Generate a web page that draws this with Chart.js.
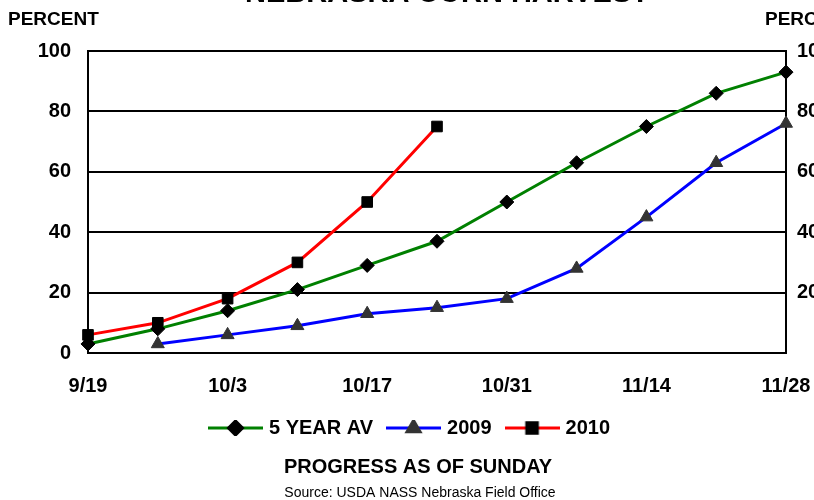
<!DOCTYPE html>
<html>
<head>
<meta charset="utf-8">
<script src="https://cdn.jsdelivr.net/npm/chart.js@4/dist/chart.umd.min.js"></script>
<style>
  body { margin: 0; background: #fff; }
  canvas { display: block; }
</style>
</head>
<body>
<canvas id="harvestChart" width="814" height="500"></canvas>
<script>
// weekly dates (Sundays), labels shown every other week
const weeks = ['9/19', '9/26', '10/3', '10/10', '10/17', '10/24', '10/31', '11/7', '11/14', '11/21', '11/28'];
const fiveYearAvg = [3, 8, 14, 21, 29, 37, 50, 63, 75, 86, 93];
const year2009 = [null, 3, 6, 9, 13, 15, 18, 28, 45, 63, 76];
const year2010 = [6, 10, 18, 30, 50, 75];
const yTicks = [0, 20, 40, 60, 80, 100];

const FONT = "'Liberation Sans', Arial, sans-serif";

// legend icon: short line with the marker in the middle
function legendIcon(color, style, markerColor, radius) {
    const c = document.createElement('canvas');
    c.width = 55;
    c.height = 16;
    const ctx = c.getContext('2d');
    ctx.strokeStyle = color;
    ctx.lineWidth = 3;
    ctx.beginPath();
    ctx.moveTo(0, 8);
    ctx.lineTo(55, 8);
    ctx.stroke();
    ctx.fillStyle = markerColor;
    ctx.strokeStyle = markerColor;
    Chart.helpers.drawPoint(ctx, { pointStyle: style, radius: radius, borderWidth: 1, rotation: 0 }, 27.5, 8);
    return c;
}

const textPlugin = {
    id: 'texts',
    afterDraw(chart) {
        const ctx = chart.ctx;
        ctx.save();
        ctx.fillStyle = '#000';
        ctx.textBaseline = 'middle';
        ctx.textAlign = 'left';
        ctx.font = 'bold 19px ' + FONT;
        ctx.fillText('PERCENT', 8, 20);
        ctx.fillText('PERCENT', 765, 20);

        ctx.textAlign = 'center';
        ctx.textBaseline = 'alphabetic';
        ctx.font = 'bold 29px ' + FONT;
        ctx.fillText('NEBRASKA CORN HARVEST', 447, 2);

        ctx.textBaseline = 'middle';
        ctx.font = 'bold 20px ' + FONT;
        ctx.fillText('PROGRESS AS OF SUNDAY', 418, 467);
        ctx.font = '14px ' + FONT;
        ctx.fillText('Source: USDA NASS Nebraska Field Office', 420, 493);
        ctx.restore();
    }
};

const ctx = document.getElementById('harvestChart').getContext('2d');
const harvestChart = new Chart(ctx, {
    type: 'line',
    data: {
        labels: weeks,
        datasets: [
            {
                label: '5 YEAR AV',
                data: fiveYearAvg,
                borderColor: '#008000',
                backgroundColor: '#000000',
                pointStyle: 'rectRot',
                pointRadius: 7,
                pointBorderColor: '#000000',
                icon: legendIcon('#008000', 'rectRot', '#000000', 7)
            },
            {
                label: '2009',
                data: year2009,
                borderColor: '#0000FF',
                backgroundColor: '#333333',
                pointStyle: 'triangle',
                pointRadius: 7.5,
                pointBorderColor: '#333333',
                icon: legendIcon('#0000FF', 'triangle', '#333333', 7.5)
            },
            {
                label: '2010',
                data: year2010,
                borderColor: '#FF0000',
                backgroundColor: '#000000',
                pointStyle: 'rect',
                pointRadius: 7.5,
                pointBorderColor: '#000000',
                icon: legendIcon('#FF0000', 'rect', '#000000', 7.5)
            }
        ]
    },
    options: {
        responsive: false,
        animation: false,
        devicePixelRatio: 1,
        layout: { padding: { top: 51, left: 8, right: 0, bottom: 52 } },
        datasets: {
            line: { borderWidth: 3, tension: 0, clip: false, pointBorderWidth: 1, spanGaps: false }
        },
        scales: {
            x: {
                type: 'category',
                offset: false,
                grid: { display: true, drawOnChartArea: false, drawTicks: false },
                border: { display: true, color: '#000', width: 2 },
                ticks: {
                    autoSkip: false,
                    maxRotation: 0,
                    padding: 21,
                    color: '#000',
                    font: { family: FONT, size: 20, weight: 'bold' },
                    callback: (value, index) => index % 2 === 0 ? weeks[index] : ''
                },
                afterFit: (scale) => {
                    scale.height = 48;
                    scale.paddingLeft = 0;
                    scale.paddingRight = 0;
                }
            },
            y: {
                position: 'left',
                min: 0,
                max: 100,
                grid: { color: '#000', lineWidth: 2, drawTicks: false },
                border: { display: true, color: '#000', width: 2 },
                ticks: {
                    stepSize: 20,
                    padding: 17,
                    color: '#000',
                    font: { family: FONT, size: 20, weight: 'bold' },
                    callback: (v) => yTicks.includes(v) ? v : ''
                },
                afterFit: (scale) => { scale.width = 80; }
            },
            y2: {
                position: 'right',
                min: 0,
                max: 100,
                grid: { display: true, drawOnChartArea: false, drawTicks: false },
                border: { display: true, color: '#000', width: 2 },
                ticks: {
                    stepSize: 20,
                    padding: 11,
                    color: '#000',
                    font: { family: FONT, size: 20, weight: 'bold' },
                    callback: (v) => v === 0 ? '' : v
                },
                afterFit: (scale) => { scale.width = 28; }
            }
        },
        plugins: {
            legend: {
                position: 'bottom',
                labels: {
                    usePointStyle: true,
                    pointStyleWidth: 47,
                    padding: 17,
                    color: '#000',
                    font: { family: FONT, size: 20, weight: 'bold' },
                    generateLabels: (chart) => chart.data.datasets.map((ds, i) => ({
                        text: ds.label,
                        pointStyle: ds.icon,
                        fillStyle: ds.borderColor,
                        strokeStyle: ds.borderColor,
                        lineWidth: 0,
                        hidden: false,
                        datasetIndex: i
                    }))
                }
            },
            tooltip: { enabled: false },
            title: { display: false }
        }
    },
    plugins: [textPlugin]
});
</script>
</body>
</html>
